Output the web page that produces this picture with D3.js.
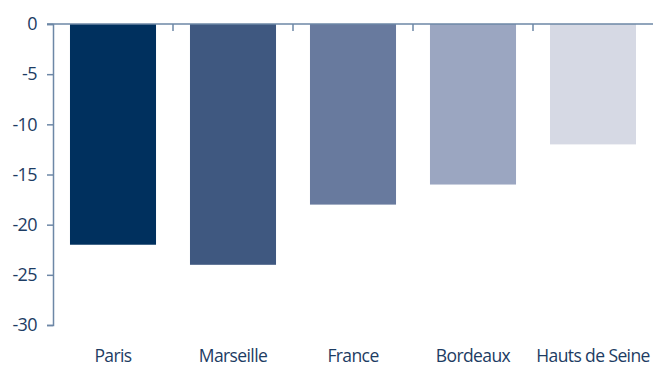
<!DOCTYPE html>
<html>
<head>
<meta charset="utf-8">
<script src="https://cdn.jsdelivr.net/npm/d3@7"></script>
<style>
  html, body { margin: 0; padding: 0; background: #fff; }
  svg text { font-family: "Open Sans", "Noto Sans", sans-serif; fill: #1d3c63; }
</style>
</head>
<body>
<svg id="chart" width="662" height="367"></svg>
<script>
// Variation by area (values are negative, bars hang down from zero)
const categories = ["Paris", "Marseille", "France", "Bordeaux", "Hauts de Seine"];
const values = [-22, -24, -18, -16, -12];
const barColors = ["#00305e", "#3f5880", "#687a9e", "#9ba6c1", "#d6d9e4"];
const yTicks = [0, -5, -10, -15, -20, -25, -30];

const svg = d3.select("#chart");
const margin = { top: 24, left: 53, right: 9, bottom: 42 };
const width = 662 - margin.left - margin.right;
const height = 367 - margin.top - margin.bottom;

const x = d3.scaleBand().domain(categories).range([0, width]).paddingInner(0.283).paddingOuter(0.1415);
const y = d3.scaleLinear().domain([0, -30]).range([0, height]);

const g = svg.append("g").attr("transform", `translate(${margin.left},${margin.top})`);

// bars
g.selectAll("rect.bar")
  .data(categories)
  .join("rect")
  .attr("class", "bar")
  .attr("x", d => x(d))
  .attr("width", x.bandwidth())
  .attr("y", y(0))
  .attr("height", (d, i) => y(values[i]) - y(0))
  .attr("fill", (d, i) => barColors[i]);

const axisColor = "#6d87a6";

// y axis (plain hyphen for negatives)
const yAxis = g.append("g")
  .call(d3.axisLeft(y).tickValues(yTicks).tickSize(6).tickPadding(10).tickFormat(d => String(d)));
yAxis.select(".domain").attr("stroke", axisColor).attr("stroke-width", 1.5);
yAxis.selectAll(".tick line").attr("stroke", axisColor).attr("stroke-width", 1.5);
yAxis.selectAll(".tick text")
  .attr("font-size", 18)
  .attr("letter-spacing", "-0.6px")
  .style("font-family", '"Open Sans", sans-serif');

// zero line with category separators
const sep = d3.range(categories.length + 1).map(i => i * x.step());
g.append("line")
  .attr("x1", -6).attr("x2", width)
  .attr("y1", y(0)).attr("y2", y(0))
  .attr("stroke", axisColor).attr("stroke-width", 1.5);
g.selectAll("line.sep")
  .data(sep.slice(1, -1))
  .join("line")
  .attr("class", "sep")
  .attr("x1", d => d).attr("x2", d => d)
  .attr("y1", y(0)).attr("y2", y(0) + 7)
  .attr("stroke", axisColor).attr("stroke-width", 1.5);

// category labels
g.selectAll("text.cat")
  .data(categories)
  .join("text")
  .attr("class", "cat")
  .attr("x", d => x(d) + x.bandwidth() / 2)
  .attr("y", height + 37)
  .attr("text-anchor", "middle")
  .attr("font-size", 17.5)
  .attr("letter-spacing", "-0.6px")
  .text(d => d);
</script>
</body>
</html>
